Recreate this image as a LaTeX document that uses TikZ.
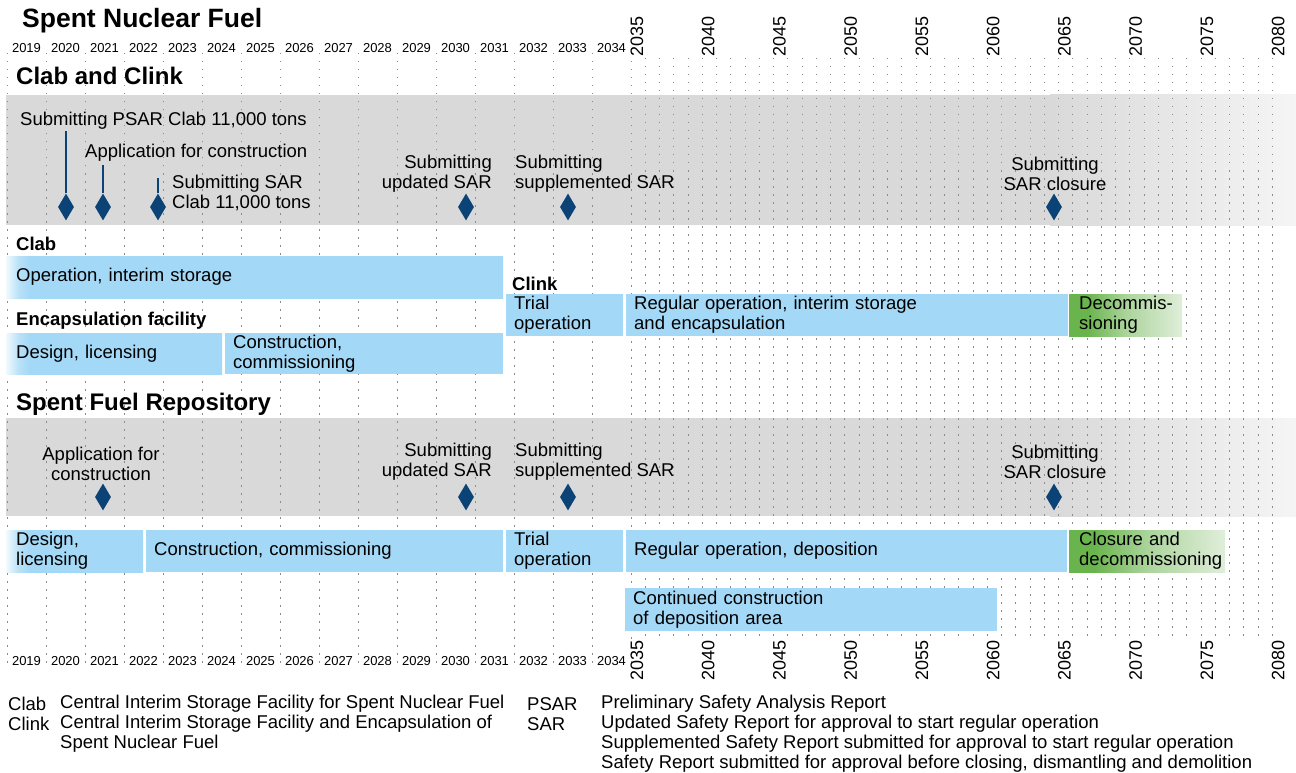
\documentclass[tikz,border=0pt]{standalone}
\usepackage{fontspec}
\setmainfont{Liberation Sans}
\usetikzlibrary{shapes.geometric}

\definecolor{barblue}{HTML}{A3D8F6}
\definecolor{bandgrey}{HTML}{D9D9D9}
\definecolor{msblue}{HTML}{0C4376}
\definecolor{decgreen}{HTML}{6AB44E}
\definecolor{decpale}{HTML}{E0EEDA}

% soft left edge of the first bars (path spans 25bp..75bp)
\pgfdeclarehorizontalshading{edgelong}{100bp}{color(0bp)=(barblue!15!white); color(25bp)=(barblue!15!white);
  color(26.2bp)=(barblue!75!white); color(27.4bp)=(barblue); color(100bp)=(barblue)}
\pgfdeclarehorizontalshading{edgemid}{100bp}{color(0bp)=(barblue!15!white); color(25bp)=(barblue!15!white);
  color(27.8bp)=(barblue!75!white); color(30.6bp)=(barblue); color(100bp)=(barblue)}
\pgfdeclarehorizontalshading{edgeshort}{100bp}{color(0bp)=(barblue!15!white); color(25bp)=(barblue!15!white);
  color(29.4bp)=(barblue!75!white); color(33.8bp)=(barblue); color(100bp)=(barblue)}
\pgfdeclarehorizontalshading{greenfade}{100bp}{color(0bp)=(decgreen); color(25bp)=(decgreen); color(33bp)=(decgreen);
  color(50bp)=(decgreen!45!decpale); color(75bp)=(decpale); color(100bp)=(decpale)}

\newcommand\lblfont{\fontsize{18.5}{20}\selectfont}
\newcommand\hdgfont{\fontsize{24}{26}\selectfont\bfseries}
\newcommand\subfont{\fontsize{18.5}{20}\selectfont\bfseries}
\newcommand\yrfont{\fontsize{13}{14}\selectfont}
\newcommand\ryrfont{\fontsize{18}{18}\selectfont}

\tikzset{
  yeargrid/.style={black!45, line width=1pt, dash pattern=on 1.5pt off 6.5pt},
  phase/.style={fill=barblue, anchor=north west, inner xsep=8pt, inner ysep=0pt, align=left, font=\lblfont},
  endphase/.style={anchor=north west, inner xsep=10pt, inner ysep=0pt, align=left, font=\lblfont, shade, shading=greenfade},
  fadein/.style={shade, shading=#1, inner xsep=10pt},
  milestone/.style={diamond, fill=msblue, minimum width=16pt, minimum height=27pt, inner sep=0pt},
  msline/.style={msblue, line width=2.2pt},
  txt/.style={font=\lblfont, inner sep=0pt},
  hdg/.style={font=\hdgfont, inner sep=0pt, anchor=west},
  subhdg/.style={font=\subfont, inner sep=0pt, anchor=west},
  yr/.style={font=\yrfont, inner sep=0pt},
  ryr/.style={font=\ryrfont, inner sep=0pt, rotate=90, anchor=west},
}

\begin{document}
\begin{tikzpicture}[x=1pt, y=-1pt]
\useasboundingbox (0,0) rectangle (1296,773);

% grey bands for the milestones
\fill[bandgrey] (6,95) rectangle (1050,225);
\shade[left color=bandgrey, right color=black!4] (1050,95) rectangle (1296,225);
\fill[bandgrey] (6,418) rectangle (1050,516);
\shade[left color=bandgrey, right color=black!4] (1050,418) rectangle (1296,516);

% year grid
\foreach \i in {0,...,16}
  \draw[yeargrid] ({7+39*\i},53) -- ({7+39*\i},664);
\foreach \i in {1,...,45}
  \draw[yeargrid] ({631+14.25*\i},58) -- ({631+14.25*\i},638);

% year labels
\foreach \y [count=\i from 0] in {2019,...,2034} {
  \node[yr] (top\y) at ({26.5+39*\i},48) {\y};
  \node[yr] (bot\y) at ({26.5+39*\i},661) {\y};
}
\foreach \y [count=\i from 0] in {2035,2040,...,2080} {
  \node[ryr] (rtop\y) at ({637+71.25*\i},57) {\y};
  \node[ryr] (rbot\y) at ({637+71.25*\i},681) {\y};
}

% headings
\node[hdg, font=\fontsize{26.5}{28}\selectfont\bfseries] (title) at (22,21) {Spent Nuclear Fuel};
\node[hdg] (clabclink) at (16,76) {Clab and Clink};
\node[hdg] (repo) at (16,404) {Spent Fuel Repository};
\node[subhdg] (clabhdg) at (16,244) {Clab};
\node[subhdg] (clinkhdg) at (512,284) {Clink};
\node[subhdg] (enchdg) at (16,321) {Encapsulation facility};

% milestones Clab and Clink
\node[milestone] (psar) at (66,207) {};
\node[milestone] (appl) at (103,207) {};
\node[milestone] (sar) at (158,207) {};
\node[milestone] (upd) at (466,207) {};
\node[milestone] (supp) at (568,207) {};
\node[milestone] (clos) at (1054,207) {};
\coordinate (psartop) at (66,131);
\coordinate (appltop) at (103,165);
\coordinate (sartop) at (158,178);
\draw[msline] (psar) -- (psartop);
\draw[msline] (appl) -- (appltop);
\draw[msline] (sar) -- (sartop);

\node[txt, anchor=west] (psartxt) at (20,121) {Submitting PSAR Clab 11,000 tons};
\node[txt, anchor=west] (appltxt) at (85,153) {Application for construction};
\node[txt, anchor=west, align=left] (sartxt) at (172,193) {Submitting SAR\\Clab 11,000 tons};
\node[txt, anchor=east, align=right] (updtxt) at (492,174) {Submitting\\updated SAR};
\node[txt, anchor=west, align=left] (supptxt) at (515,174) {Submitting\\supplemented SAR};
\node[txt, align=center] (clostxt) at (1055,174) {Submitting\\SAR closure};

% Clab, Clink and encapsulation phases
\node[phase, fadein=edgelong, text width=477pt, minimum height=42pt] (clabop) at (6,256) {Operation, interim storage};
\node[phase, text width=101pt, minimum height=42pt] (clinktrial) at (506,294) {Trial\\operation};
\node[phase, text width=426pt, minimum height=42pt] (clinkreg) at (626,294) {Regular operation, interim storage\\and encapsulation};
\node[endphase, text width=93pt, minimum height=42pt] (clinkdec) at (1069,294) {\mbox{Decommis-}\\sioning};
\node[phase, fadein=edgemid, text width=196pt, minimum height=41pt] (encdesign) at (6,333) {Design, licensing};
\node[phase, text width=262pt, minimum height=41pt] (encconst) at (225,333) {Construction,\\commissioning};

% milestones repository
\node[milestone] (rappl) at (103,497) {};
\node[milestone] (rupd) at (466,497) {};
\node[milestone] (rsupp) at (568,497) {};
\node[milestone] (rclos) at (1054,497) {};
\node[txt, align=center] (rappltxt) at (101,464) {Application for\\construction};
\node[txt, anchor=east, align=right] (rupdtxt) at (492,462) {Submitting\\updated SAR};
\node[txt, anchor=west, align=left] (rsupptxt) at (515,462) {Submitting\\supplemented SAR};
\node[txt, align=center] (rclostxt) at (1055,462) {Submitting\\SAR closure};

% repository phases
\node[phase, fadein=edgeshort, text width=117pt, minimum height=42pt] (rdesign) at (6,530) {Design,\\licensing};
\node[phase, text width=341pt, minimum height=42pt] (rconst) at (146,530) {Construction, commissioning};
\node[phase, text width=101pt, minimum height=42pt] (rtrial) at (506,530) {Trial\\operation};
\node[phase, text width=425pt, minimum height=42pt] (rreg) at (626,530) {Regular operation, deposition};
\node[endphase, text width=136pt, minimum height=42pt] (rclose) at (1069,530) {Closure and\\decommissioning};
\node[phase, text width=356pt, minimum height=43pt] (rcont) at (625,588) {Continued construction\\of deposition area};

% legend
\node[txt, anchor=west] (k1) at (8,704) {Clab};
\node[txt, anchor=west] (v1) at (60,704) {Central Interim Storage Facility for Spent Nuclear Fuel};
\node[txt, anchor=west] (k2) at (8,724) {Clink};
\node[txt, anchor=west, align=left] (v2) at (60,734) {Central Interim Storage Facility and Encapsulation of\\Spent Nuclear Fuel};
\node[txt, anchor=west] (k3) at (527,704) {PSAR};
\node[txt, anchor=west] (v3) at (601,704) {Preliminary Safety Analysis Report};
\node[txt, anchor=west] (k4) at (527,724) {SAR};
\node[txt, anchor=west, align=left] (v4) at (601,744) {Updated Safety Report for approval to start regular operation\\Supplemented Safety Report submitted for approval to start regular operation\\Safety Report submitted for approval before closing, dismantling and demolition};
\end{tikzpicture}
\end{document}
